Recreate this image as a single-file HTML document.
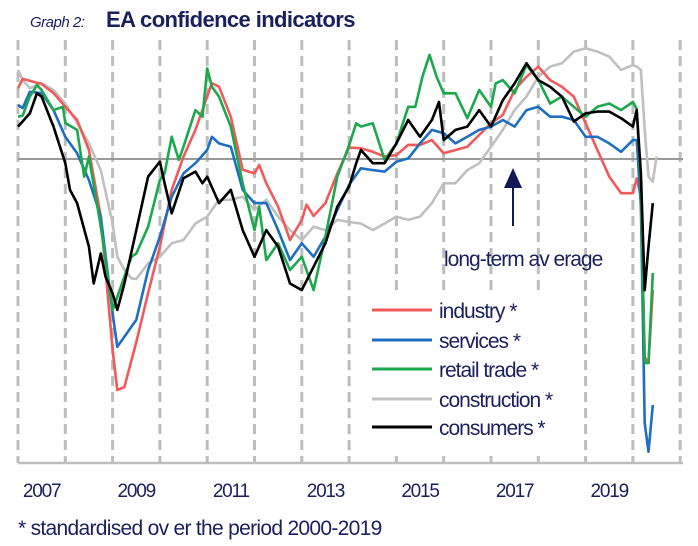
<!DOCTYPE html>
<html><head><meta charset="utf-8"><style>
html,body{margin:0;padding:0;background:#fff;}
svg{display:block;font-family:"Liberation Sans",sans-serif;}
</style></head><body>
<svg id="chart" width="698" height="546" viewBox="0 0 698 546">
<text x="30" y="27" font-size="15" font-style="italic" fill="#1a1f5e" letter-spacing="-0.5">Graph 2:</text>
<text x="106" y="27" font-size="22" font-weight="bold" fill="#1a1f5e" letter-spacing="-0.6">EA confidence indicators</text>
<g id="grid"></g>
<line x1="18" y1="159" x2="683" y2="159" stroke="#999" stroke-width="2"/>
<g id="series"></g>
<rect x="358" y="293" width="186" height="162" fill="#fff"/>
<g id="legend"></g>
<line x1="513" y1="226" x2="513" y2="185" stroke="#0f1a55" stroke-width="2"/>
<polygon points="504,188 522,188 513,168" fill="#0f1a55"/>
<text x="444" y="266" font-size="21" fill="#1a1f5e" letter-spacing="-1">long-term av erage</text>
<line x1="18" y1="463" x2="683" y2="463" stroke="#bdbdbd" stroke-width="2.5"/>
<g id="xlabels"></g>
<text x="18" y="535" font-size="21" fill="#1a1f5e" letter-spacing="-0.7">* standardised ov er the period 2000-2019</text>
</svg>
<script>
const tickYears=[2007,2008,2009,2010,2011,2012,2013,2014,2015,2016,2017,2018,2019,2020,2021];
const labelYears=["2007","2009","2011","2013","2015","2017","2019"];
const seriesNames=["industry *","services *","retail trade *","construction *","consumers *"];
const industryT=[2007,2007.1,2007.5,2007.75,2008,2008.25,2008.5,2008.75,2009,2009.1,2009.25,2009.5,2009.75,2010,2010.25,2010.5,2010.75,2011,2011.1,2011.25,2011.5,2011.75,2012,2012.1,2012.25,2012.5,2012.75,2013,2013.1,2013.25,2013.5,2013.75,2014,2014.25,2014.5,2014.75,2015,2015.25,2015.5,2015.75,2016,2016.25,2016.5,2016.75,2017,2017.25,2017.5,2017.75,2018,2018.25,2018.5,2018.75,2019,2019.25,2019.5,2019.75,2020,2020.08,2020.17,2020.25,2020.33,2020.42];
const industryV=[2.36,2.67,2.5,2.2,1.74,1.3,0.3,-1.92,-6.36,-7.7,-7.6,-6.1,-4.47,-2.92,-1.03,0.08,0.97,2.08,2.53,2.41,1.41,-0.36,-0.48,-0.2,-0.81,-1.59,-2.7,-2.03,-1.52,-1.9,-1.47,-0.48,0.38,0.36,0.24,0.08,0.13,0.47,0.47,0.63,0.19,0.3,0.41,0.8,1.19,1.47,2.3,2.74,3.08,2.63,2.41,2.08,1.19,0.3,-0.59,-1.14,-1.14,-0.65,-1.25,-6.6,-6.8,-4.37];
const servicesT=[2007,2007.1,2007.25,2007.5,2007.75,2008,2008.25,2008.5,2008.75,2009,2009.1,2009.5,2009.75,2010,2010.25,2010.5,2010.75,2011,2011.1,2011.25,2011.5,2011.75,2012,2012.25,2012.5,2012.75,2013,2013.25,2013.5,2013.75,2014,2014.25,2014.5,2014.75,2015,2015.25,2015.5,2015.75,2016,2016.25,2016.5,2016.75,2017,2017.25,2017.5,2017.75,2018,2018.25,2018.5,2018.75,2019,2019.25,2019.5,2019.75,2020,2020.08,2020.17,2020.25,2020.33,2020.42];
const servicesV=[1.8,1.7,2.24,2.2,1.63,0.74,0.19,-0.7,-1.92,-5.14,-6.26,-5.36,-3.7,-2.59,-1.26,-0.48,-0.14,0.3,0.74,0.52,0.41,-1.03,-1.47,-1.47,-2.37,-3.37,-2.81,-3.26,-2.59,-1.7,-0.86,-0.31,-0.37,-0.42,-0.09,0.02,0.52,0.97,0.86,0.52,0.74,0.97,1.08,1.3,1.08,1.63,1.74,1.41,1.41,1.3,0.74,0.74,0.52,0.24,0.63,0.63,-1.59,-8.8,-9.76,-8.2];
const retailT=[2007,2007.1,2007.25,2007.4,2007.5,2007.75,2007.95,2008,2008.25,2008.4,2008.5,2008.75,2009,2009.1,2009.25,2009.4,2009.5,2009.75,2010,2010.1,2010.25,2010.4,2010.5,2010.75,2010.9,2011,2011.1,2011.25,2011.5,2011.75,2012,2012.1,2012.25,2012.5,2012.75,2013,2013.25,2013.5,2013.75,2014,2014.15,2014.25,2014.5,2014.75,2015,2015.25,2015.4,2015.55,2015.7,2015.85,2016,2016.25,2016.5,2016.75,2017,2017.1,2017.25,2017.5,2017.75,2018,2018.25,2018.5,2018.75,2019,2019.25,2019.5,2019.75,2020,2020.08,2020.17,2020.25,2020.33,2020.42];
const retailV=[1.41,1.45,2.08,2.46,2.3,1.63,1.74,1.2,0.97,-0.59,0.08,-2.26,-5.03,-4.6,-3.92,-3.26,-3.15,-2.26,-0.7,-0.48,0.74,-0.03,0.41,1.63,1.41,3.02,2.41,2.08,1.08,-0.81,-2.37,-1.59,-3.37,-2.81,-3.7,-3.26,-4.37,-2.59,-0.59,0.46,1.19,1.08,1.19,-0.03,0.52,1.74,1.74,2.74,3.47,2.74,2.19,2.19,1.36,2.3,1.74,2.52,2.63,2.19,3.13,2.63,1.85,2.08,1.74,1.41,1.74,1.85,1.63,1.9,1.67,-0.9,-6.8,-6.8,-3.8];
const constructionT=[2007,2007.1,2007.25,2007.5,2007.75,2008,2008.25,2008.5,2008.75,2009,2009.1,2009.25,2009.4,2009.5,2009.75,2010,2010.25,2010.5,2010.75,2011,2011.25,2011.5,2011.75,2012,2012.25,2012.5,2012.75,2013,2013.25,2013.5,2013.75,2014,2014.25,2014.5,2014.75,2015,2015.25,2015.5,2015.75,2016,2016.25,2016.5,2016.75,2017,2017.25,2017.5,2017.75,2018,2018.25,2018.5,2018.75,2019,2019.25,2019.5,2019.75,2020,2020.08,2020.17,2020.25,2020.33,2020.42,2020.5];
const constructionV=[2.97,2.63,2.36,2.53,2.3,1.85,1.2,0.52,-0.37,-2.15,-3.26,-3.7,-3.98,-4.0,-3.48,-3.26,-2.81,-2.7,-2.15,-1.92,-1.36,-1.36,-1.26,-1.7,-1.36,-1.92,-2.37,-2.7,-2.26,-2.37,-2.03,-2.1,-2.15,-2.37,-2.15,-1.92,-2.03,-1.92,-1.47,-0.81,-0.81,-0.37,-0.14,0.41,0.97,1.63,2.08,2.74,3.08,3.19,3.58,3.69,3.58,3.41,2.97,3.13,3.08,2.97,0.97,-0.59,-0.76,0.08];
const consumersT=[2007,2007.25,2007.4,2007.5,2007.75,2008,2008.1,2008.25,2008.5,2008.6,2008.75,2008.85,2009,2009.1,2009.25,2009.5,2009.75,2010,2010.1,2010.25,2010.5,2010.75,2010.9,2011,2011.25,2011.5,2011.75,2012,2012.25,2012.5,2012.75,2013,2013.25,2013.5,2013.75,2014,2014.15,2014.25,2014.5,2014.75,2015,2015.25,2015.5,2015.75,2015.9,2016,2016.25,2016.5,2016.75,2017,2017.25,2017.5,2017.75,2018,2018.25,2018.5,2018.75,2019,2019.25,2019.5,2019.75,2020,2020.08,2020.17,2020.25,2020.33,2020.42];
const consumersV=[1.08,1.52,2.19,2.08,1.08,-0.14,-1.03,-1.47,-2.92,-4.15,-3.15,-3.92,-4.48,-5.03,-4.15,-2.37,-0.59,-0.09,-0.81,-1.81,-0.64,-0.42,-0.81,-0.59,-1.47,-1.03,-2.37,-3.26,-2.37,-2.92,-4.15,-4.37,-3.59,-2.81,-1.59,-0.92,-0.14,0.3,-0.14,-0.14,0.52,1.3,0.74,1.3,1.9,0.63,0.97,1.08,1.63,1.08,1.96,2.52,3.19,2.63,2.41,2.08,1.25,1.52,1.58,1.58,1.36,1.08,1.63,-0.48,-4.37,-2.92,-1.47];

const NS='http://www.w3.org/2000/svg';
function xScale(t){return 18+(t-2007)*47.3;}
function yScale(v){return 159-v*30;}
function mk(tag,attrs,parent){const e=document.createElementNS(NS,tag);for(const k in attrs)e.setAttribute(k,attrs[k]);parent.appendChild(e);return e;}

const grid=document.getElementById('grid');
tickYears.forEach(y=>{
  const l=mk('line',{x1:xScale(y),x2:xScale(y),y1:40,y2:463,stroke:'#bdbdbd','stroke-width':3,'stroke-dasharray':'10,6'},grid);
  
  
});
const xl=document.getElementById('xlabels');
labelYears.forEach(y=>{
  const t=mk('text',{x:xScale(+y+0.5),y:497,'font-size':19,'text-anchor':'middle',fill:'#1a1f5e','letter-spacing':'-1.2'},xl);
  t.textContent=y;
  
  
});
const sg=document.getElementById('series');
const defs=[
 {T:constructionT,V:constructionV,c:'#c0c0c0',n:'construction-line'},
 {T:industryT,V:industryV,c:'#f15a5a',n:'industry-line'},
 {T:servicesT,V:servicesV,c:'#1f6fc0',n:'services-line'},
 {T:retailT,V:retailV,c:'#1ca84c',n:'retail-trade-line'},
 {T:consumersT,V:consumersV,c:'#000000',n:'consumers-line'}
];
defs.forEach(d=>{
  const pts=d.T.map((t,i)=>xScale(t).toFixed(1)+','+yScale(d.V[i]).toFixed(1)).join(' ');
  const p=mk('polyline',{points:pts,fill:'none',stroke:d.c,'stroke-width':2.6,'stroke-linejoin':'round'},sg);
  
  
});
const lg=document.getElementById('legend');
const lcolors=['#f15a5a','#1f6fc0','#1ca84c','#c0c0c0','#000000'];
const lys=[310,340,369,399,427];
seriesNames.forEach((n,i)=>{
  const l=mk('line',{x1:372,x2:432,y1:lys[i],y2:lys[i],stroke:lcolors[i],'stroke-width':3},lg);
  
  
  const t=mk('text',{x:439,y:lys[i]+8,'font-size':21,fill:'#1a1f5e','letter-spacing':'-1'},lg);
  t.textContent=n;
  
  
});
</script>
</body></html>
